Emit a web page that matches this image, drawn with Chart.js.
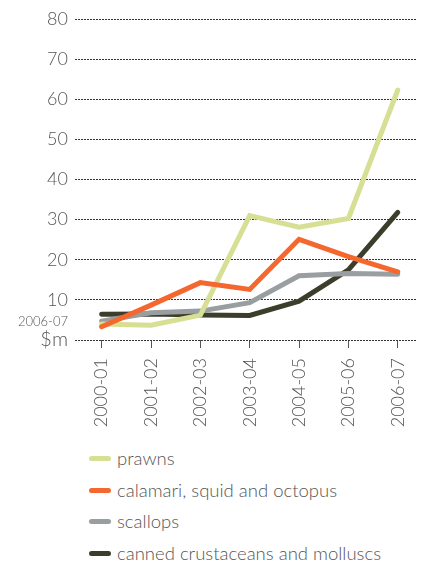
<!DOCTYPE html>
<html>
<head>
<meta charset="utf-8">
<script src="https://cdn.jsdelivr.net/npm/chart.js@4"></script>
<style>
  html, body { margin: 0; padding: 0; background: #fff; }
  body { width: 421px; height: 563px; position: relative; overflow: hidden; font-family: Lato, "Open Sans", sans-serif; }
  #wrap { position: absolute; left: 0; top: 0; width: 421px; height: 440px; }
  #legend { position: absolute; left: 0; top: 442px; width: 421px; }
  .item { position: absolute; left: 0; height: 32px; width: 421px; }
  .swatch { position: absolute; left: 89px; width: 22px; height: 5px; border-radius: 3px; }
  .label { position: absolute; left: 117px; font-size: 18.5px; font-weight: 300; color: #555; white-space: nowrap; line-height: 20px; }
</style>
</head>
<body>
<div id="wrap"><canvas id="c" width="421" height="440"></canvas></div>
<div id="legend"></div>
<script>
// Financial years on the horizontal axis
const years = ['2000-01', '2001-02', '2002-03', '2003-04', '2004-05', '2005-06', '2006-07'];

// Import values, $m (2006-07 dollars)
const prawns   = [4.0, 3.7, 6.2, 31.0, 28.1, 30.3, 62.3];
const calamari = [3.3, 8.7, 14.3, 12.6, 25.1, 20.8, 17.0];
const scallops = [4.7, 6.8, 7.2, 9.3, 16.0, 16.6, 16.4];
const canned   = [6.4, 6.5, 6.2, 6.1, 9.7, 17.5, 31.8];

const seriesNames = ['prawns', 'calamari, squid and octopus', 'scallops', 'canned crustaceans and molluscs'];
const seriesColors = ['#d6df93', '#f4672f', '#999ea1', '#3d3d2b'];
const seriesData = [prawns, calamari, scallops, canned];
const drawOrder = [1, 0, 2, 3];

const yTicks = [0, 10, 20, 30, 40, 50, 60, 70, 80];

const FONT = 'Lato, "Open Sans", sans-serif';
const TEXT = '#555';

const datasets = seriesNames.map((name, i) => ({
  label: name,
  data: seriesData[i].map((v, k) => ({ x: k, y: v })),
  borderColor: seriesColors[i],
  backgroundColor: seriesColors[i],
  borderWidth: 5,
  borderCapStyle: 'round',
  borderJoinStyle: 'miter',
  pointRadius: 0,
  tension: 0,
  order: drawOrder[i]
}));

// small caption for the unit label on the value axis
const unitCaption = {
  id: 'unitCaption',
  afterDraw(chart) {
    const { ctx } = chart;
    const y = chart.scales.y;
    ctx.save();
    ctx.font = '300 13px ' + FONT;
    ctx.fillStyle = TEXT;
    ctx.textAlign = 'right';
    ctx.textBaseline = 'middle';
    ctx.fillText('2006-07', y.right - 7, y.getPixelForValue(0) - 18);
    ctx.restore();
  }
};

const chart = new Chart(document.getElementById('c'), {
  type: 'line',
  data: { datasets },
  plugins: [unitCaption],
  options: {
    responsive: false,
    animation: false,
    events: [],
    layout: { padding: { top: 19, right: 4, left: 0, bottom: 0 } },
    plugins: { legend: { display: false }, tooltip: { enabled: false } },
    scales: {
      x: {
        type: 'linear',
        min: -0.54,
        max: 6.39,
        afterBuildTicks(scale) { scale.ticks = years.map((_, k) => ({ value: k })); },
        afterFit(scale) { scale.height = 100; scale.paddingLeft = 0; scale.paddingRight = 0; },
        border: { display: false },
        grid: { drawOnChartArea: false, drawTicks: true, tickLength: 8, color: TEXT, lineWidth: 1 },
        ticks: {
          autoSkip: false,
          minRotation: 90,
          maxRotation: 90,
          padding: 10,
          color: TEXT,
          font: { family: FONT, size: 18, weight: 300 },
          callback: (v) => years[v]
        }
      },
      y: {
        min: 0,
        max: 80,
        afterBuildTicks(scale) { scale.ticks = yTicks.map(v => ({ value: v })); },
        afterFit(scale) { scale.width = 75; },
        border: { display: false, dash: [2, 1] },
        grid: { drawTicks: false, color: '#333', lineWidth: 1 },
        ticks: {
          padding: 7,
          color: TEXT,
          font: (c) => ({ family: FONT, size: c.tick && c.tick.value === 0 ? 20 : 18, weight: 300 }),
          callback: (v) => v === 0 ? '$m' : String(v)
        }
      }
    }
  }
});

// legend list below the chart
const legend = document.getElementById('legend');
seriesNames.forEach((name, i) => {
  const item = document.createElement('div');
  item.className = 'item';
  item.style.top = (i * 31.7) + 'px';
  const sw = document.createElement('div');
  sw.className = 'swatch';
  sw.style.background = seriesColors[i];
  sw.style.top = '14px';
  const lb = document.createElement('div');
  lb.className = 'label';
  lb.style.top = '6px';
  lb.textContent = name;
  item.appendChild(sw);
  item.appendChild(lb);
  legend.appendChild(item);
});
</script>
</body>
</html>
